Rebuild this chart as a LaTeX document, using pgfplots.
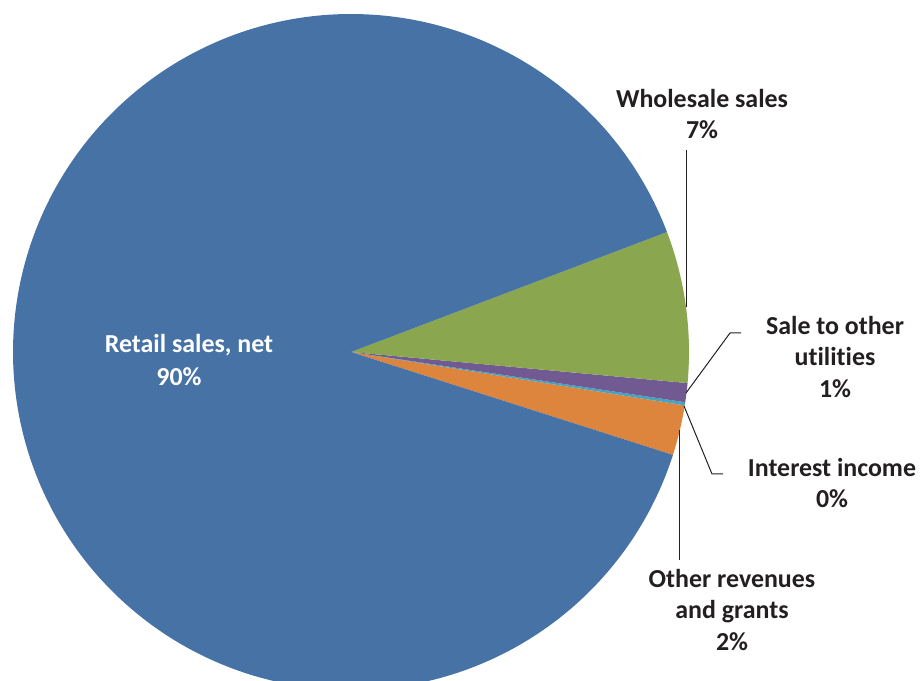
\documentclass[border=0pt]{standalone}
\usepackage{pgfplots}
\pgfplotsset{compat=1.18}
\usepackage{fontspec}
\setmainfont{Carlito}[Ligatures=NoCommon]
\definecolor{cblue}{HTML}{4672A6}
\definecolor{cgreen}{HTML}{8AA64F}
\definecolor{cpurple}{HTML}{715A92}
\definecolor{cteal}{HTML}{45A5BF}
\definecolor{corange}{HTML}{DD843D}
\definecolor{ctext}{HTML}{231F20}
\tikzset{lbl/.style={font=\fontsize{26}{32}\selectfont\bfseries, text=ctext, align=center, inner sep=0pt}}
% shares in percent
\def\vOther{2.4}
\def\vInterest{0.15}
\def\vSale{0.91}
\def\vWholesale{7.24}
\def\vRetail{89.3}
\def\cx{351}\def\cy{329}\def\R{338}
\pgfmathsetmacro\aA{-17.73}
\pgfmathsetmacro\aB{\aA+3.6*\vOther}
\pgfmathsetmacro\aC{\aB+3.6*\vInterest}
\pgfmathsetmacro\aD{\aC+3.6*\vSale}
\pgfmathsetmacro\aE{\aD+3.6*\vWholesale}
\pgfmathsetmacro\aF{\aE+3.6*\vRetail}
\begin{document}
\begin{tikzpicture}
\begin{axis}[x=1bp,y=1bp,xmin=0,xmax=920,ymin=0,ymax=681,
  hide axis, clip=true]
\addplot[fill=corange, draw=none, domain=\aA:\aB, samples=30] ({\cx+\R*cos(x)},{\cy+\R*sin(x)}) -- (\cx,\cy) -- cycle;
\addplot[fill=cteal, draw=none, domain=\aB:\aC, samples=5] ({\cx+\R*cos(x)},{\cy+\R*sin(x)}) -- (\cx,\cy) -- cycle;
\addplot[fill=cpurple, draw=none, domain=\aC:\aD, samples=10] ({\cx+\R*cos(x)},{\cy+\R*sin(x)}) -- (\cx,\cy) -- cycle;
\addplot[fill=cgreen, draw=none, domain=\aD:\aE, samples=40] ({\cx+\R*cos(x)},{\cy+\R*sin(x)}) -- (\cx,\cy) -- cycle;
\addplot[fill=cblue, draw=none, domain=\aE:\aF, samples=300] ({\cx+\R*cos(x)},{\cy+\R*sin(x)}) -- (\cx,\cy) -- cycle;
% leader lines
\addplot[ctext, line width=1pt] coordinates {(686,531) (686,374)};
\addplot[ctext, line width=1pt] coordinates {(686,288) (730,348) (741,348)};
\addplot[ctext, line width=1pt] coordinates {(684,275) (712,207) (723,207)};
\addplot[ctext, line width=1pt] coordinates {(679,251) (679,121)};
% labels
\node[lbl, text=white] at (axis cs:189,336) {Retail sales, net};
\node[lbl, text=white] at (axis cs:179,304) {90\%};
\node[lbl] at (axis cs:702,567) {Wholesale sales\\7\%};
\node[lbl] at (axis cs:835,324) {Sale to other\\utilities\\1\%};
\node[lbl] at (axis cs:832,198) {Interest income\\0\%};
\node[lbl] at (axis cs:732,71) {Other revenues\\and grants\\2\%};
\end{axis}
\pgfresetboundingbox
\path (current axis.south west) rectangle (current axis.north east);
\end{tikzpicture}
\end{document}
